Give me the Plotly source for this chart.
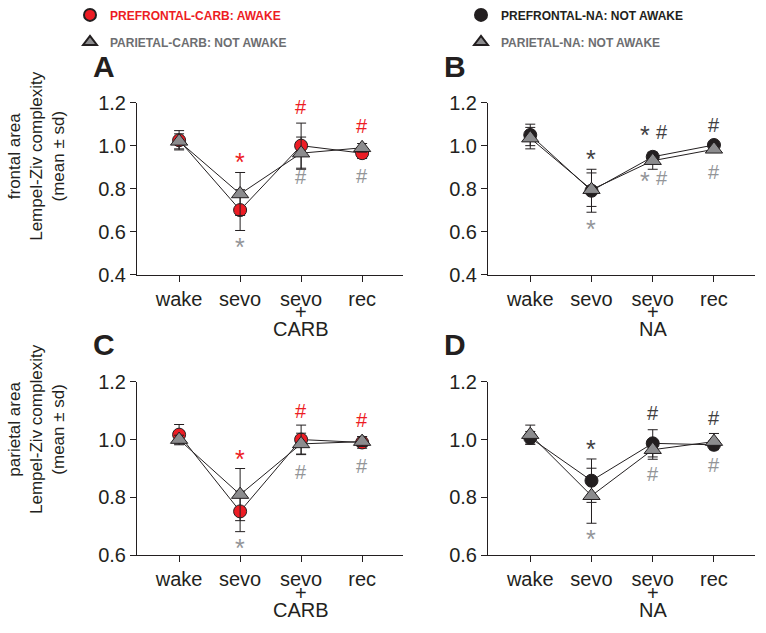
import plotly.graph_objects as go

W, H = 766, 633

# ---------------- data ----------------
stage_idx = [0, 1, 2, 3]
tick_text = ['wake', 'sevo', 'sevo', 'rec']
stages_carb = ['wake', 'sevo', 'sevo + CARB', 'rec']
stages_na = ['wake', 'sevo', 'sevo + NA', 'rec']

# Panel A: frontal area, CARB experiment
a_prefrontal_carb = [1.025, 0.700, 1.000, 0.965]
a_prefrontal_carb_sd = [0.045, 0.095, 0.105, 0.025]
a_parietal_carb = [1.020, 0.775, 0.965, 0.990]
a_parietal_carb_sd = [0.035, 0.100, 0.075, 0.020]

# Panel B: frontal area, NA experiment
b_prefrontal_na = [1.050, 0.790, 0.948, 1.003]
b_prefrontal_na_sd = [0.050, 0.100, 0.020, 0.012]
b_parietal_na = [1.035, 0.795, 0.930, 0.983]
b_parietal_na_sd = [0.050, 0.078, 0.040, 0.015]

# Panel C: parietal area, CARB experiment
c_prefrontal_carb = [1.017, 0.752, 1.000, 0.990]
c_prefrontal_carb_sd = [0.035, 0.070, 0.050, 0.020]
c_parietal_carb = [1.000, 0.810, 0.985, 0.993]
c_parietal_carb_sd = [0.015, 0.090, 0.037, 0.017]

# Panel D: parietal area, NA experiment
d_prefrontal_na = [1.006, 0.858, 0.987, 0.982]
d_prefrontal_na_sd = [0.022, 0.075, 0.047, 0.010]
d_parietal_na = [1.017, 0.806, 0.965, 0.993]
d_parietal_na_sd = [0.033, 0.095, 0.033, 0.028]

# significance marks: (stage index, y value, symbol, series)
sig_a = [(1, 0.938, '*', 'red'), (1, 0.542, '*', 'gray'),
         (2, 1.178, '#', 'red'), (2, 0.856, '#', 'gray'),
         (3, 1.090, '#', 'red'), (3, 0.860, '#', 'gray')]
sig_b = [(1, 0.950, '*', 'black'), (1, 0.624, '*', 'gray'),
         (2, 1.065, '* #', 'black'), (2, 0.849, '* #', 'gray'),
         (3, 1.095, '#', 'black'), (3, 0.878, '#', 'gray')]
sig_c = [(1, 0.942, '*', 'red'), (1, 0.637, '*', 'gray'),
         (2, 1.098, '#', 'red'), (2, 0.887, '#', 'gray'),
         (3, 1.068, '#', 'red'), (3, 0.909, '#', 'gray')]
sig_d = [(1, 0.978, '*', 'black'), (1, 0.668, '*', 'gray'),
         (2, 1.092, '#', 'black'), (2, 0.881, '#', 'gray'),
         (3, 1.076, '#', 'black'), (3, 0.912, '#', 'gray')]

# ---------------- style ----------------
RED = '#ed1c24'
BLACK = '#231f20'
GRAY_FILL = '#8c8c8e'
GRAY_TXT = '#939598'
LEG_GRAY = '#6d6e71'
FONT = 'Liberation Sans, Arial, Helvetica, sans-serif'
sig_colors = {'red': RED, 'gray': GRAY_TXT, 'black': '#414042'}

def px_x(p):
    return p / W

def px_y(p):
    return 1 - p / H

panels = {
    'A': dict(ax='', xd=(137, 403), yd=(95, 273), yr=(0.4, 1.2), cond='CARB'),
    'B': dict(ax='2', xd=(488, 755), yd=(95, 273), yr=(0.4, 1.2), cond='NA'),
    'C': dict(ax='3', xd=(137, 403), yd=(384, 564), yr=(0.6, 1.2), cond='CARB'),
    'D': dict(ax='4', xd=(488, 755), yd=(384, 564), yr=(0.6, 1.2), cond='NA'),
}

series = {
    'A': [(a_prefrontal_carb, a_prefrontal_carb_sd, 'circle', RED, 13),
          (a_parietal_carb, a_parietal_carb_sd, 'triangle-up', GRAY_FILL, 15)],
    'B': [(b_prefrontal_na, b_prefrontal_na_sd, 'circle', BLACK, 13),
          (b_parietal_na, b_parietal_na_sd, 'triangle-up', GRAY_FILL, 15)],
    'C': [(c_prefrontal_carb, c_prefrontal_carb_sd, 'circle', RED, 13),
          (c_parietal_carb, c_parietal_carb_sd, 'triangle-up', GRAY_FILL, 15)],
    'D': [(d_prefrontal_na, d_prefrontal_na_sd, 'circle', BLACK, 13),
          (d_parietal_na, d_parietal_na_sd, 'triangle-up', GRAY_FILL, 15)],
}
sigs = {'A': sig_a, 'B': sig_b, 'C': sig_c, 'D': sig_d}

fig = go.Figure()
annotations = []
layout = {}

for key, p in panels.items():
    ax = p['ax']
    xref, yref = 'x' + ax, 'y' + ax
    for vals, sd, sym, col, size in series[key]:
        fig.add_trace(go.Scatter(
            x=stage_idx, y=vals, mode='lines+markers', xaxis=xref, yaxis=yref,
            line=dict(color=BLACK, width=1),
            marker=dict(symbol=sym, size=size, color=col, line=dict(color=BLACK, width=1)),
            error_y=dict(type='data', array=sd, visible=True, color=BLACK, thickness=1, width=5),
            showlegend=False, cliponaxis=False, hoverinfo='skip'))
    layout['xaxis' + ax] = dict(
        domain=[px_x(p['xd'][0]), px_x(p['xd'][1])], range=[-0.69, 3.67],
        anchor=yref, tickmode='array', tickvals=stage_idx, ticktext=tick_text,
        ticks='outside', ticklen=6, tickcolor=BLACK, showline=True, linecolor=BLACK,
        linewidth=1, showgrid=False, zeroline=False, fixedrange=True,
        tickfont=dict(family=FONT, size=20, color=BLACK))
    layout['yaxis' + ax] = dict(
        domain=[px_y(p['yd'][1]), px_y(p['yd'][0])], range=list(p['yr']),
        anchor=xref, dtick=0.2, tickformat='.1f',
        ticks='outside', ticklen=6, tickcolor=BLACK, showline=True, linecolor=BLACK,
        linewidth=1, showgrid=False, zeroline=False, fixedrange=True,
        tickfont=dict(family=FONT, size=20, color=BLACK))
    # panel letter
    annotations.append(dict(text='<b>%s</b>' % key, xref='paper', yref='paper',
                            x=px_x(p['xd'][0] - 33), y=px_y(p['yd'][0] - 38),
                            xanchor='center', yanchor='middle', showarrow=False,
                            font=dict(family=FONT, size=30, color=BLACK)))
    # second / third lines of "sevo + X" tick label
    base = p['yd'][1]
    annotations.append(dict(text='+', xref=xref, yref='paper', x=2, y=px_y(base + 39),
                            height=12, showarrow=False, xanchor='center', yanchor='middle',
                            font=dict(family=FONT, size=20, color=BLACK)))
    annotations.append(dict(text=p['cond'], xref=xref, yref='paper', x=2, y=px_y(base + 56),
                            height=15, showarrow=False, xanchor='center', yanchor='middle',
                            font=dict(family=FONT, size=20, color=BLACK)))
    # significance marks
    for si, yv, txt, c in sigs[key]:
        parts = txt.split(' ')
        shifts = [0] if len(parts) == 1 else [-8, 9]
        for part, xs in zip(parts, shifts):
            star = part == '*'
            annotations.append(dict(text=part, xref=xref, yref=yref, x=si, y=yv,
                                    xshift=xs, yshift=-3 if star else 0,
                                    showarrow=False, xanchor='center', yanchor='middle',
                                    font=dict(family=FONT, size=25 if star else 20,
                                              color=sig_colors[c])))

# y axis titles
annotations.append(dict(text='frontal area<br>Lempel-Ziv complexity<br>(mean ± sd)',
                        xref='paper', yref='paper', x=px_x(37), y=px_y(150),
                        textangle=-90, showarrow=False, xanchor='center', yanchor='middle',
                        font=dict(family=FONT, size=17, color=BLACK)))
annotations.append(dict(text='parietal area<br>Lempel-Ziv complexity<br>(mean ± sd)',
                        xref='paper', yref='paper', x=px_x(37), y=px_y(433),
                        textangle=-90, showarrow=False, xanchor='center', yanchor='middle',
                        font=dict(family=FONT, size=17, color=BLACK)))

# legend entries
legend_items = [
    ('legend', 'g1', '<span style="color:%s"><b>PREFRONTAL-CARB: AWAKE</b></span>' % RED, 'circle', RED),
    ('legend', 'g2', '<span style="color:%s"><b>PARIETAL-CARB: NOT AWAKE</b></span>' % LEG_GRAY, 'triangle-up', GRAY_FILL),
    ('legend2', 'g3', '<span style="color:%s"><b>PREFRONTAL-NA: NOT AWAKE</b></span>' % BLACK, 'circle', BLACK),
    ('legend2', 'g4', '<span style="color:%s"><b>PARIETAL-NA: NOT AWAKE</b></span>' % LEG_GRAY, 'triangle-up', GRAY_FILL),
]
for lg, grp, name, sym, col in legend_items:
    fig.add_trace(go.Scatter(x=[None], y=[None], mode='markers', name=name, legend=lg,
                             legendgroup=grp, showlegend=True,
                             marker=dict(symbol=sym, size=13, color=col,
                                         line=dict(color=BLACK, width=0.8))))

leg_common = dict(xanchor='left', yanchor='top', bgcolor='rgba(0,0,0,0)',
                  borderwidth=0, tracegroupgap=8, itemsizing='constant',
                  font=dict(family=FONT, size=12), orientation='v')
layout['legend'] = dict(x=px_x(70), y=px_y(-11), **leg_common)
layout['legend2'] = dict(x=px_x(461), y=px_y(-11), **leg_common)

fig.update_layout(width=W, height=H, autosize=False,
                  margin=dict(l=0, r=0, t=0, b=0),
                  paper_bgcolor='white', plot_bgcolor='white',
                  annotations=annotations, showlegend=True, **layout)

fig.write_html('out.html', config={'displayModeBar': False},
               post_script="document.body.style.margin='0';document.body.style.overflow='hidden';")
